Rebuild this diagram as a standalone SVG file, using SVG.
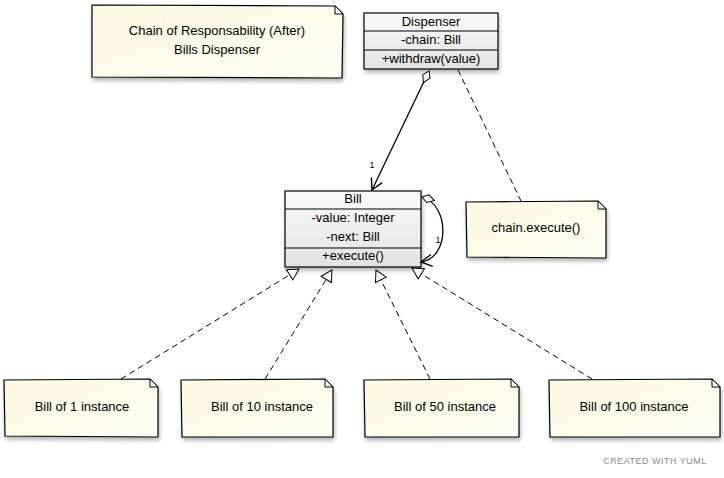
<svg xmlns="http://www.w3.org/2000/svg" width="724" height="478" viewBox="0 0 724 478">
<defs>
<linearGradient id="noteG" x1="0" y1="0" x2="1" y2="1"><stop offset="0" stop-color="#fdf8e0"/><stop offset="1" stop-color="#fffdf4"/></linearGradient>
<linearGradient id="clsG" x1="0" y1="0" x2="0" y2="1"><stop offset="0" stop-color="#fafafa"/><stop offset="1" stop-color="#e2e2e2"/></linearGradient>
<filter id="sh" x="-10%" y="-10%" width="130%" height="140%"><feGaussianBlur in="SourceAlpha" stdDeviation="2"/><feOffset dx="1" dy="3"/><feComponentTransfer><feFuncA type="linear" slope="0.3"/></feComponentTransfer><feMerge><feMergeNode/><feMergeNode in="SourceGraphic"/></feMerge></filter>
<marker id="open" markerWidth="14" markerHeight="14" refX="12" refY="7" orient="auto" markerUnits="userSpaceOnUse"><path d="M1,1 L12,7 L1,13" fill="none" stroke="#000" stroke-width="1.4"/></marker>
<marker id="tri" markerWidth="14" markerHeight="14" refX="12" refY="7" orient="auto" markerUnits="userSpaceOnUse"><path d="M1,1 L12,7 L1,13 Z" fill="#fff" stroke="#000" stroke-width="1"/></marker>
<marker id="dia" markerWidth="16" markerHeight="10" refX="1" refY="5" orient="auto" markerUnits="userSpaceOnUse"><path d="M1,5 L7,1 L14,5 L7,9 Z" fill="#fff" stroke="#000" stroke-width="1"/></marker>
</defs>
<style>
text{font-family:"Liberation Sans",Arial,sans-serif;font-size:13px;fill:#000;text-anchor:middle;dominant-baseline:middle}
.note{fill:url(#noteG);stroke:#000;stroke-width:1.2;filter:url(#sh)}
.fold{fill:#fff;stroke:#000;stroke-width:1}
.cls{fill:url(#clsG);stroke:#000;stroke-width:1.2;filter:url(#sh)}
.sep{stroke:#000;stroke-width:1.2}
.solid{fill:none;stroke:#000;stroke-width:1.3}
.dash{fill:none;stroke:#000;stroke-width:1;stroke-dasharray:6,4}
.small{font-size:9px}
.credit{font-size:9px;fill:#888;letter-spacing:0.5px}
</style>
<rect width="724" height="478" fill="#fff"/>

<g id="title">
<path class="note" d="M92,5 L335,6 L343,14 L342,78 L92,77 Z"/>
<path class="fold" d="M335,6 L335,14 L343,14 Z"/>
<text x="217" y="32">Chain of Responsability (After)</text>
<text x="217" y="51">Bills Dispenser</text>
</g>

<g id="dispenser">
<rect class="cls" x="364" y="13" width="134" height="56"/>
<line class="sep" x1="364" y1="31" x2="498" y2="31"/>
<line class="sep" x1="364" y1="50" x2="498" y2="50"/>
<text x="431" y="23">Dispenser</text>
<text x="431" y="41">-chain: Bill</text>
<text x="431" y="60">+withdraw(value)</text>
</g>

<g id="bill">
<rect class="cls" x="285" y="191" width="136" height="76"/>
<line class="sep" x1="285" y1="209" x2="421" y2="209"/>
<line class="sep" x1="285" y1="248" x2="421" y2="248"/>
<text x="353" y="200">Bill</text>
<text x="353" y="219">-value: Integer</text>
<text x="353" y="238">-next: Bill</text>
<text x="353" y="257">+execute()</text>
</g>

<g id="chainNote">
<path class="note" d="M466,202 L598,201 L606,209 L606,258 L467,257 Z"/>
<path class="fold" d="M598,201 L598,209 L606,209 Z"/>
<text x="536" y="229">chain.execute()</text>
</g>

<g id="bill1">
<path class="note" d="M4,380 L150,379 L158,387 L158,437 L5,436 Z"/>
<path class="fold" d="M150,379 L150,387 L158,387 Z"/>
<text x="82" y="408">Bill of 1 instance</text>
</g>
<g id="bill10">
<path class="note" d="M181,380 L325,379 L333,387 L333,437 L182,437 Z"/>
<path class="fold" d="M325,379 L325,387 L333,387 Z"/>
<text x="262" y="408">Bill of 10 instance</text>
</g>
<g id="bill50">
<path class="note" d="M364,380 L511,379 L519,387 L519,437 L365,437 Z"/>
<path class="fold" d="M511,379 L511,387 L519,387 Z"/>
<text x="445" y="408">Bill of 50 instance</text>
</g>
<g id="bill100">
<path class="note" d="M549,380 L712,379 L720,387 L720,437 L550,437 Z"/>
<path class="fold" d="M712,379 L712,387 L720,387 Z"/>
<text x="634" y="408">Bill of 100 instance</text>
</g>

<g id="connectors">
<path class="solid" d="M429,71 L372,190" marker-start="url(#dia)" marker-end="url(#open)"/>
<text class="small" x="372" y="166">1</text>
<path class="dash" d="M458,70 L521,201"/>
<path class="solid" d="M422,197 C450,205 450,258 421,262" marker-start="url(#dia)" marker-end="url(#open)"/>
<text class="small" x="438" y="241">1</text>
<path class="dash" d="M121,379 L299,269" marker-end="url(#tri)"/>
<path class="dash" d="M265,379 L332,270" marker-end="url(#tri)"/>
<path class="dash" d="M430,379 L376,270" marker-end="url(#tri)"/>
<path class="dash" d="M592,379 L412,268" marker-end="url(#tri)"/>
</g>

<text class="credit" x="655" y="462">CREATED WITH YUML</text>
</svg>
